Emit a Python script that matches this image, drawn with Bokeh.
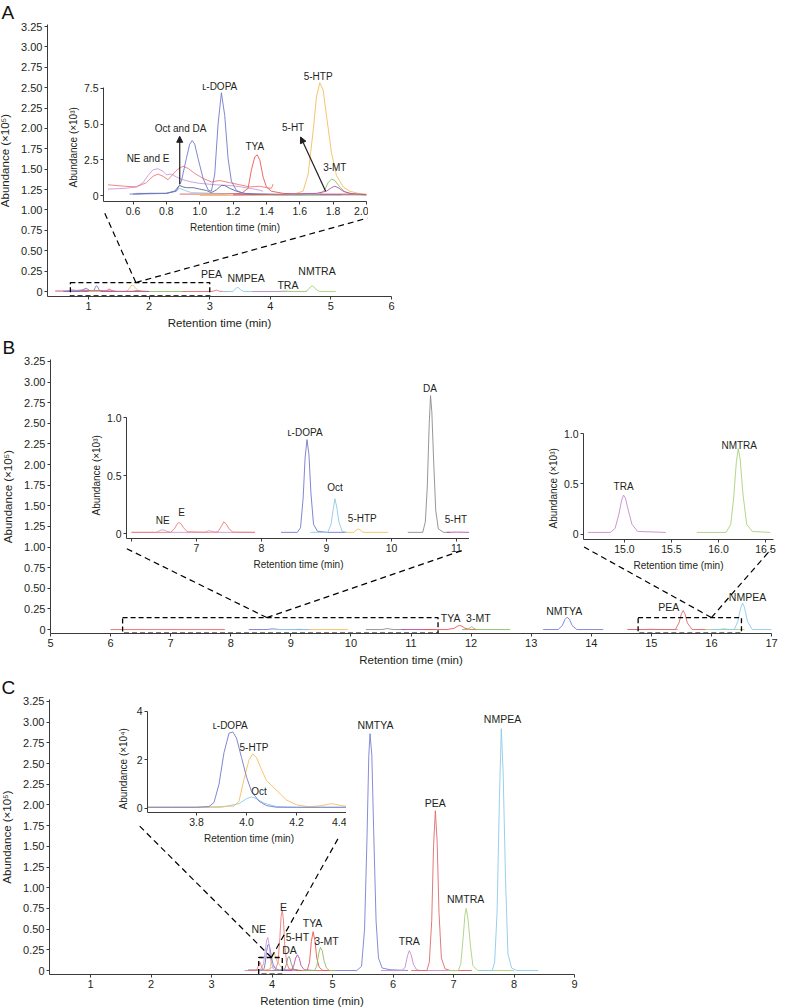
import math
from bokeh.plotting import figure
from bokeh.layouts import column
from bokeh.models import FixedTicker, PrintfTickFormatter, Arrow, NormalHead, Title
from bokeh.core.properties import value
from bokeh.embed import file_html
from bokeh.resources import INLINE

FONT = "Liberation Sans"
INK = "#231f20"
AXC = "#3a3a3a"

COLORS = {
    "NE": "#c99ad8", "E": "#f07a7a", "LDOPA": "#7479cc", "Oct": "#8fcbe8", "DA": "#8c8c8c",
    "DA_A": "#5a6d94", "5HTP": "#f6be5c", "5HT": "#b84fae", "TYA": "#ec5858", "3MT": "#8cc063",
    "NMTYA": "#7a7fd0", "TRA": "#c98bc9", "PEA": "#e06a6a", "NMTRA": "#a9d27c", "NMPEA": "#8ccbe8",
}

# ---------------- Panel A inset (x: min, y: x10^3) ----------------
A_NE_T = [0.45, 0.55, 0.62, 0.66, 0.69, 0.72, 0.75, 0.78, 0.80, 0.83, 0.86, 0.90, 0.95, 1.00, 1.05, 1.10, 1.15, 1.20, 1.25, 1.30, 1.35, 1.38]
A_NE_Y = [0.45, 0.50, 0.60, 0.90, 1.40, 1.80, 1.88, 1.70, 1.45, 1.50, 1.30, 1.10, 0.95, 0.85, 0.80, 0.75, 0.72, 0.68, 0.60, 0.50, 0.40, 0.30]
A_E_T = [0.45, 0.55, 0.62, 0.68, 0.72, 0.75, 0.78, 0.81, 0.84, 0.87, 0.90, 0.93, 0.97, 1.02, 1.07, 1.12, 1.18, 1.24, 1.30, 1.36, 1.40, 1.43, 1.44]
A_E_Y = [0.75, 0.65, 0.60, 0.90, 1.35, 1.50, 1.35, 1.10, 1.50, 1.85, 2.05, 1.90, 1.55, 1.20, 0.95, 1.05, 0.90, 0.75, 0.60, 0.65, 0.55, 0.50, 0.80]
A_LDOPA_T = [0.58, 0.70, 0.80, 0.86, 0.89, 0.92, 0.94, 0.955, 0.97, 0.99, 1.02, 1.05, 1.07, 1.09, 1.11, 1.13, 1.15, 1.17, 1.19, 1.22, 1.26, 1.32, 1.40, 1.50, 1.60, 1.70, 1.85]
A_LDOPA_Y = [0.10, 0.12, 0.15, 0.30, 1.00, 2.60, 3.60, 3.85, 3.60, 2.60, 1.20, 0.40, 0.30, 1.50, 5.00, 7.20, 5.60, 2.60, 1.00, 0.35, 0.15, 0.10, 0.10, 0.05, 0.05, 0.05, 0.05]
A_DA_T = [0.60, 0.70, 0.80, 0.85, 0.87, 0.88, 0.90, 0.92, 0.96, 1.00, 1.04, 1.07, 1.10, 1.13, 1.15, 1.18, 1.22, 1.27, 1.35, 1.45, 1.60, 1.80, 2.00]
A_DA_Y = [0.10, 0.15, 0.15, 0.30, 0.60, 0.70, 0.60, 0.55, 0.55, 0.45, 0.35, 0.20, 0.40, 0.70, 0.70, 0.50, 0.30, 0.15, 0.10, 0.05, 0.05, 0.05, 0.05]
A_OCT_T = [0.62, 0.80, 0.86, 0.88, 0.90, 0.95, 1.10, 1.30]
A_OCT_Y = [0.15, 0.15, 0.35, 0.50, 0.40, 0.20, 0.15, 0.10]
A_TYA_T = [0.88, 1.00, 1.15, 1.25, 1.29, 1.31, 1.33, 1.345, 1.36, 1.38, 1.40, 1.43, 1.50, 1.60, 1.75, 1.90, 2.00]
A_TYA_Y = [0.10, 0.10, 0.10, 0.15, 0.50, 1.80, 2.70, 2.85, 2.50, 1.30, 0.60, 0.30, 0.15, 0.10, 0.10, 0.10, 0.05]
A_5HTP_T = [1.00, 1.30, 1.55, 1.62, 1.65, 1.68, 1.70, 1.72, 1.74, 1.76, 1.79, 1.82, 1.86, 1.90, 1.95, 2.00]
A_5HTP_Y = [0.00, 0.00, 0.05, 0.30, 1.50, 4.50, 6.90, 7.90, 7.40, 5.60, 3.00, 1.40, 0.60, 0.30, 0.15, 0.10]
A_3MT_T = [1.30, 1.60, 1.72, 1.75, 1.77, 1.79, 1.81, 1.84, 1.87, 1.92, 2.00]
A_3MT_Y = [0.05, 0.05, 0.10, 0.40, 0.90, 1.15, 1.05, 0.60, 0.25, 0.10, 0.05]
A_5HT_T = [1.20, 1.50, 1.70, 1.76, 1.79, 1.81, 1.83, 1.86, 1.90, 2.00]
A_5HT_Y = [0.05, 0.10, 0.15, 0.30, 0.55, 0.65, 0.55, 0.30, 0.15, 0.05]

A_INSET_LABELS = ["NE and E", "Oct and DA", "ʟ-DOPA", "TYA", "5-HT", "3-MT", "5-HTP"]
A_INSET_LX = [0.69, 0.885, 1.12, 1.33, 1.56, 1.81, 1.71]
A_INSET_LY = [2.6, 4.7, 7.64, 3.43, 4.77, 1.96, 8.34]

# ---------------- Panel A main extras (x10^5) ----------------
A_PEA_T = [2.55, 3.00, 3.06, 3.09, 3.11, 3.13, 3.16, 3.22, 3.30]
A_PEA_Y = [0.0, 0.0, 0.004, 0.012, 0.018, 0.012, 0.004, 0.0, 0.0]
A_NMPEA_T = [3.20, 3.38, 3.41, 3.44, 3.46, 3.48, 3.51, 3.56, 4.25]
A_NMPEA_Y = [0.0, 0.0, 0.02, 0.045, 0.05, 0.045, 0.02, 0.0, 0.0]
A_TRA_T = [3.70, 4.10, 4.20, 4.25, 4.30, 4.40, 4.60]
A_TRA_Y = [0.0, 0.0, 0.003, 0.006, 0.003, 0.0, 0.0]
A_NMTRA_T = [4.20, 4.58, 4.62, 4.66, 4.69, 4.72, 4.76, 4.82, 5.08]
A_NMTRA_Y = [0.0, 0.0, 0.02, 0.055, 0.07, 0.055, 0.02, 0.0, 0.0]
A_3MTTAIL_T = [2.00, 2.60]
A_3MTTAIL_Y = [0.0005, 0.0005]
A_MAIN_LABELS = ["PEA", "NMPEA", "TRA", "NMTRA"]
A_MAIN_LX = [3.03, 3.60, 4.29, 4.77]
A_MAIN_LY = [0.21, 0.16, 0.085, 0.25]

# ---------------- Panel B left inset (x10^3) ----------------
B_NE_T = [6.0, 6.38, 6.42, 6.46, 6.5, 6.54, 6.6, 6.9, 7.12, 7.17, 7.2, 7.23, 7.28, 7.6, 7.9]
B_NE_Y = [0.01, 0.01, 0.02, 0.032, 0.03, 0.02, 0.01, 0.01, 0.01, 0.02, 0.025, 0.02, 0.01, 0.01, 0.01]
B_E_T = [6.0, 6.6, 6.66, 6.7, 6.73, 6.76, 6.8, 6.86, 7.2, 7.33, 7.38, 7.42, 7.46, 7.5, 7.56, 7.9]
B_E_Y = [0.01, 0.01, 0.04, 0.08, 0.095, 0.085, 0.05, 0.015, 0.01, 0.015, 0.06, 0.1, 0.08, 0.04, 0.012, 0.01]
B_LDOPA_T = [8.3, 8.55, 8.6, 8.64, 8.67, 8.7, 8.73, 8.76, 8.8, 8.86, 9.0, 9.3]
B_LDOPA_Y = [0.01, 0.01, 0.05, 0.3, 0.65, 0.81, 0.68, 0.35, 0.08, 0.02, 0.01, 0.01]
B_OCT_T = [8.75, 9.02, 9.07, 9.1, 9.13, 9.16, 9.19, 9.24, 9.3]
B_OCT_Y = [0.01, 0.01, 0.08, 0.2, 0.3, 0.22, 0.1, 0.02, 0.01]
B_5HTP_T = [9.3, 9.42, 9.46, 9.49, 9.52, 9.56, 9.95]
B_5HTP_Y = [0.01, 0.01, 0.03, 0.04, 0.03, 0.01, 0.01]
B_DA_T = [10.25, 10.48, 10.52, 10.55, 10.58, 10.6, 10.62, 10.65, 10.68, 10.72, 10.8, 10.9]
B_DA_Y = [0.01, 0.01, 0.1, 0.4, 0.95, 1.19, 1.05, 0.6, 0.2, 0.04, 0.01, 0.01]
B_5HT_T = [10.85, 11.0, 11.2, 11.4]
B_5HT_Y = [0.01, 0.012, 0.01, 0.01]
BL_LABELS = ["NE", "E", "ʟ-DOPA", "Oct", "5-HTP", "DA", "5-HT"]
BL_LX = [6.48, 6.77, 8.67, 9.13, 9.55, 10.59, 10.99]
BL_LY = [0.11, 0.18, 0.875, 0.40, 0.13, 1.25, 0.12]

# ---------------- Panel B right inset (x10^3) ----------------
B_TRA_T = [14.61, 14.85, 14.9, 14.94, 14.97, 14.99, 15.01, 15.04, 15.08, 15.14, 15.44]
B_TRA_Y = [0.02, 0.02, 0.06, 0.2, 0.34, 0.39, 0.36, 0.24, 0.1, 0.03, 0.02]
B_NMTRA_T = [15.77, 16.08, 16.13, 16.16, 16.19, 16.21, 16.23, 16.26, 16.3, 16.36, 16.55]
B_NMTRA_Y = [0.02, 0.02, 0.1, 0.35, 0.72, 0.85, 0.75, 0.4, 0.1, 0.03, 0.02]
BR_LABELS = ["TRA", "NMTRA"]
BR_LX = [14.99, 16.22]
BR_LY = [0.475, 0.88]

# ---------------- Panel B main extras (x10^5) ----------------
B_TYA_T = [11.2, 11.6, 11.72, 11.77, 11.81, 11.85, 11.9, 12.0, 12.1]
B_TYA_Y = [0.0, 0.0, 0.015, 0.04, 0.05, 0.04, 0.015, 0.0, 0.0]
B_3MT_T = [11.85, 11.95, 11.98, 12.01, 12.04, 12.08, 12.2, 12.65]
B_3MT_Y = [0.0, 0.0, 0.02, 0.035, 0.02, 0.0, 0.0, 0.0]
B_NMTYA_T = [13.2, 13.45, 13.52, 13.56, 13.6, 13.64, 13.68, 13.76, 14.2]
B_NMTYA_Y = [0.0, 0.0, 0.05, 0.12, 0.15, 0.12, 0.05, 0.0, 0.0]
B_PEA_T = [14.6, 15.4, 15.46, 15.5, 15.53, 15.56, 15.6, 15.68, 15.9]
B_PEA_Y = [0.0, 0.0, 0.08, 0.19, 0.23, 0.19, 0.08, 0.0, 0.0]
B_NMPEA_T = [16.0, 16.38, 16.44, 16.49, 16.52, 16.55, 16.6, 16.68, 17.0]
B_NMPEA_Y = [0.0, 0.0, 0.1, 0.27, 0.32, 0.27, 0.1, 0.0, 0.0]
B_MAIN_LABELS = ["TYA", "3-MT", "NMTYA", "PEA", "NMPEA"]
B_MAIN_LX = [11.66, 12.12, 13.55, 15.29, 16.6]
B_MAIN_LY = [0.145, 0.14, 0.23, 0.27, 0.40]

# ---------------- Panel C inset (x10^4) ----------------
C_LDOPA_T = [3.604, 3.7, 3.8, 3.85, 3.87, 3.89, 3.91, 3.93, 3.945, 3.96, 3.98, 4.0, 4.02, 4.05, 4.08, 4.12, 4.2, 4.3, 4.42]
C_LDOPA_Y = [0.05, 0.05, 0.05, 0.08, 0.25, 1.0, 2.3, 3.1, 3.15, 2.9, 2.1, 1.3, 0.7, 0.3, 0.12, 0.05, 0.05, 0.05, 0.05]
C_5HTP_T = [3.604, 3.8, 3.95, 3.97, 3.99, 4.01, 4.025, 4.04, 4.06, 4.08, 4.1, 4.13, 4.16, 4.2, 4.25, 4.3, 4.34, 4.38, 4.42]
C_5HTP_Y = [0.05, 0.05, 0.1, 0.3, 1.2, 2.0, 2.25, 2.1, 1.6, 1.15, 0.95, 0.65, 0.35, 0.15, 0.07, 0.12, 0.2, 0.12, 0.08]
C_OCT_T = [3.604, 3.9, 3.97, 4.0, 4.02, 4.04, 4.07, 4.12, 4.2, 4.42]
C_OCT_Y = [0.05, 0.05, 0.2, 0.4, 0.48, 0.4, 0.22, 0.08, 0.05, 0.05]
C_INSET_LABELS = ["ʟ-DOPA", "5-HTP", "Oct"]
C_INSET_LX = [3.935, 4.03, 4.05]
C_INSET_LY = [3.42, 2.52, 0.70]

# ---------------- Panel C main (x10^5) ----------------
C_NE_T = [3.55, 3.8, 3.86, 3.89, 3.91, 3.93, 3.95, 3.98, 4.02, 4.1, 4.5]
C_NE_Y = [0.0, 0.0, 0.08, 0.25, 0.36, 0.40, 0.32, 0.12, 0.02, 0.0, 0.0]
C_E_T = [3.6, 3.74, 3.78, 3.8, 3.82, 3.86, 4.05, 4.1, 4.13, 4.15, 4.17, 4.19, 4.21, 4.24, 4.28, 4.4, 5.0]
C_E_Y = [0.0, 0.0, 0.06, 0.1, 0.06, 0.0, 0.0, 0.1, 0.4, 0.65, 0.73, 0.6, 0.32, 0.1, 0.02, 0.0, 0.0]
C_DA_T = [4.0, 4.2, 4.24, 4.26, 4.28, 4.3, 4.32, 4.36, 4.5]
C_DA_Y = [0.0, 0.0, 0.08, 0.15, 0.17, 0.14, 0.08, 0.01, 0.0]
C_5HT_T = [4.2, 4.32, 4.36, 4.39, 4.42, 4.45, 4.48, 4.53, 4.7]
C_5HT_Y = [0.0, 0.0, 0.06, 0.15, 0.19, 0.15, 0.06, 0.01, 0.0]
C_TYA_T = [4.4, 4.58, 4.62, 4.65, 4.68, 4.71, 4.74, 4.78, 4.84, 5.0]
C_TYA_Y = [0.0, 0.0, 0.1, 0.35, 0.47, 0.36, 0.15, 0.04, 0.0, 0.0]
C_3MT_T = [4.5, 4.7, 4.74, 4.77, 4.8, 4.83, 4.86, 4.9, 4.95, 5.05]
C_3MT_Y = [0.0, 0.0, 0.05, 0.2, 0.28, 0.24, 0.12, 0.03, 0.0, 0.0]
C_NMTYA_T = [3.55, 5.40, 5.48, 5.53, 5.57, 5.60, 5.62, 5.65, 5.68, 5.72, 5.76, 5.82, 5.95, 6.25]
C_NMTYA_Y = [0.0, 0.0, 0.05, 0.5, 1.6, 2.6, 2.86, 2.6, 1.7, 0.6, 0.15, 0.03, 0.01, 0.0]
C_TRA_T = [5.8, 6.15, 6.2, 6.24, 6.27, 6.3, 6.34, 6.39, 6.45, 7.3]
C_TRA_Y = [0.0, 0.0, 0.04, 0.18, 0.24, 0.19, 0.07, 0.01, 0.0, 0.0]
C_PEA_T = [6.3, 6.56, 6.6, 6.64, 6.67, 6.7, 6.73, 6.76, 6.8, 6.86, 6.95, 7.3]
C_PEA_Y = [0.0, 0.0, 0.1, 0.6, 1.5, 1.93, 1.55, 0.7, 0.15, 0.02, 0.0, 0.0]
C_NMTRA_T = [6.9, 7.08, 7.12, 7.16, 7.19, 7.21, 7.24, 7.28, 7.32, 7.4, 8.0]
C_NMTRA_Y = [0.0, 0.0, 0.08, 0.4, 0.68, 0.75, 0.62, 0.3, 0.06, 0.0, 0.0]
C_NMPEA_T = [7.45, 7.64, 7.68, 7.72, 7.76, 7.79, 7.82, 7.86, 7.9, 7.96, 8.05, 8.4]
C_NMPEA_Y = [0.0, 0.0, 0.1, 0.7, 2.1, 2.92, 2.4, 1.1, 0.2, 0.03, 0.0, 0.0]
C_MAIN_LABELS = ["NE", "E", "5-HT", "DA", "TYA", "3-MT", "NMTYA", "TRA", "PEA", "NMTRA", "NMPEA"]
C_MAIN_LX = [3.78, 4.19, 4.42, 4.29, 4.67, 4.90, 5.71, 6.27, 6.70, 7.20, 7.81]
C_MAIN_LY = [0.50, 0.77, 0.41, 0.25, 0.57, 0.36, 2.97, 0.36, 2.02, 0.86, 3.04]

# zoom boxes [x0, x1, y0, y1] and connectors [apex_x, apex_y, left_x, left_y, right_x, right_y]
ZOOM_A = [0.70, 3.00, -0.055, 0.11]
CONN_A = [1.78, 0.11, 1.25, 0.99, 5.60, 0.90]
ZOOM_BL = [6.20, 11.45, -0.043, 0.145]
CONN_BL = [8.60, 0.145, 6.24, 0.99, 11.86, 0.96]
ZOOM_BR = [14.78, 16.50, -0.043, 0.145]
CONN_BR = [16.00, 0.145, 13.88, 1.00, 17.00, 0.98]
ZOOM_C = [3.78, 4.17, -0.044, 0.157]
CONN_C = [3.99, 0.157, 1.79, 1.76, 5.12, 1.63]

Y_MAIN_TICKS = [0, 0.25, 0.5, 0.75, 1.0, 1.25, 1.5, 1.75, 2.0, 2.25, 2.5, 2.75, 3.0, 3.25]


def make_fig(fw, fh, xr, yr, bl, bt, br, bb, margin):
    p = figure(frame_width=fw, frame_height=fh, x_range=xr, y_range=yr,
               output_backend="svg", toolbar_location=None,
               min_border_left=bl, min_border_top=bt, min_border_right=br, min_border_bottom=bb,
               margin=margin)
    p.background_fill_color = None
    p.border_fill_color = None
    p.outline_line_color = None
    p.xgrid.visible = False
    p.ygrid.visible = False
    return p


def style_axes(p, xticks, yticks, xfmt=None, yfmt=None, xover=None, yover=None,
               tick_size="11px", label_size="11.5px", xlabel=None, ylabel=None, ybounds=None):
    for ax in (p.xaxis[0], p.yaxis[0]):
        ax.axis_line_color = AXC
        ax.axis_line_width = 1
        ax.major_tick_line_color = AXC
        ax.major_tick_in = 0
        ax.major_tick_out = 3
        ax.minor_tick_line_color = None
        ax.major_label_text_font = FONT
        ax.major_label_text_font_size = tick_size
        ax.major_label_text_color = INK
        ax.major_label_standoff = 2
        ax.axis_label_text_font = FONT
        ax.axis_label_text_font_size = label_size
        ax.axis_label_text_font_style = "normal"
        ax.axis_label_text_color = INK
    p.xaxis[0].ticker = FixedTicker(ticks=xticks)
    p.yaxis[0].ticker = FixedTicker(ticks=yticks)
    if xfmt:
        p.xaxis[0].formatter = PrintfTickFormatter(format=xfmt)
    if yfmt:
        p.yaxis[0].formatter = PrintfTickFormatter(format=yfmt)
    if xover:
        p.xaxis[0].major_label_overrides = xover
    if yover:
        p.yaxis[0].major_label_overrides = yover
    if xlabel:
        p.xaxis[0].axis_label = xlabel
        p.xaxis[0].axis_label_standoff = 4
    if ylabel:
        p.yaxis[0].axis_label = ylabel
        p.yaxis[0].axis_label_standoff = 7
    if ybounds:
        p.yaxis[0].bounds = ybounds


def trace(p, t, y, color, scale=1.0):
    p.line(t, [v * scale for v in y], line_color=color, line_width=1.0, line_alpha=0.9)


def labels(p, xs, ys, texts, size="10px"):
    p.text(x=xs, y=ys, text=texts, text_font=value(FONT), text_font_size=size,
           text_color=INK, text_align="center", text_baseline="middle")


def zoom_box(p, box, conn):
    p.quad(left=[box[0]], right=[box[1]], bottom=[box[2]], top=[box[3]], fill_color=None,
           line_color="black", line_width=1.3, line_dash="5 3")
    p.segment(x0=[conn[0], conn[0]], y0=[conn[1], conn[1]], x1=[conn[2], conn[4]], y1=[conn[3], conn[5]],
              line_color="black", line_width=1.2, line_dash="6 4")


def inset_ylabel(p, text, offset, standoff=2):
    p.add_layout(Title(text=text, align="left", offset=offset, standoff=standoff,
                       text_font=FONT, text_font_size="10px", text_font_style="normal",
                       text_color=INK), "left")


def panel_letter(p, text, offset):
    p.title.text = text
    p.title.align = "left"
    p.title.offset = offset
    p.title.standoff = 0
    p.title.vertical_align = "top"
    p.title.text_font = FONT
    p.title.text_font_size = "19px"
    p.title.text_font_style = "normal"
    p.title.text_color = "#111111"


# ============ Panel A ============
A_TRACES = [(A_NE_T, A_NE_Y, COLORS["NE"]), (A_E_T, A_E_Y, COLORS["E"]),
            (A_OCT_T, A_OCT_Y, COLORS["Oct"]), (A_DA_T, A_DA_Y, COLORS["DA_A"]),
            (A_LDOPA_T, A_LDOPA_Y, COLORS["LDOPA"]), (A_TYA_T, A_TYA_Y, COLORS["TYA"]),
            (A_5HTP_T, A_5HTP_Y, COLORS["5HTP"]), (A_3MT_T, A_3MT_Y, COLORS["3MT"]),
            (A_5HT_T, A_5HT_Y, COLORS["5HT"])]

insetA = make_fig(263, 133, (0.423, 2.0), (-0.42, 8.9), 43, 8, 10, 40, (60, 0, 0, 60))
style_axes(insetA, [0.6, 0.8, 1.0, 1.2, 1.4, 1.6, 1.8, 2.0], [0, 2.5, 5.0, 7.5], xfmt="%.1f", yfmt="%.1f",
           yover={0: "0"}, tick_size="10.5px", label_size="10px", xlabel="Retention time (min)",
           ybounds=(-0.42, 7.6))
for t, y, c in A_TRACES:
    trace(insetA, t, y, c)
insetA.add_layout(Arrow(end=NormalHead(size=6, fill_color=INK, line_color=INK), x_start=0.88, y_start=0.8,
                        x_end=0.88, y_end=4.15, line_color=INK, line_width=1.2))
insetA.add_layout(Arrow(end=NormalHead(size=6, fill_color=INK, line_color=INK), x_start=1.755, y_start=0.3,
                        x_end=1.605, y_end=4.1, line_color=INK, line_width=1.2))
labels(insetA, A_INSET_LX, A_INSET_LY, A_INSET_LABELS)
inset_ylabel(insetA, "Abundance (×10³)", 14, 4)

figA = make_fig(344, 272, (0.322, 6.0), (-0.061, 3.275), 45, 24, 386, 42, (-241, 0, 0, 4))
style_axes(figA, [1, 2, 3, 4, 5, 6], Y_MAIN_TICKS, yfmt="%.2f", yover={0: "0"},
           xlabel="Retention time (min)", ylabel="Abundance (×10⁵)")
for t, y, c in A_TRACES:
    trace(figA, t, y, c, scale=0.01)
trace(figA, A_3MTTAIL_T, A_3MTTAIL_Y, COLORS["3MT"])
trace(figA, A_PEA_T, A_PEA_Y, COLORS["PEA"])
trace(figA, A_NMPEA_T, A_NMPEA_Y, COLORS["NMPEA"])
trace(figA, A_TRA_T, A_TRA_Y, COLORS["TRA"])
trace(figA, A_NMTRA_T, A_NMTRA_Y, COLORS["NMTRA"])
labels(figA, A_MAIN_LX, A_MAIN_LY, A_MAIN_LABELS, size="10.5px")
zoom_box(figA, ZOOM_A, CONN_A)
panel_letter(figA, "A", -46)

# ============ Panel B ============
BL_TRACES = [(B_NE_T, B_NE_Y, COLORS["NE"]), (B_E_T, B_E_Y, COLORS["E"]),
             (B_LDOPA_T, B_LDOPA_Y, COLORS["LDOPA"]), (B_OCT_T, B_OCT_Y, COLORS["Oct"]),
             (B_5HTP_T, B_5HTP_Y, COLORS["5HTP"]), (B_DA_T, B_DA_Y, COLORS["DA"]),
             (B_5HT_T, B_5HT_Y, COLORS["5HT"])]
BR_TRACES = [(B_TRA_T, B_TRA_Y, COLORS["TRA"]), (B_NMTRA_T, B_NMTRA_Y, COLORS["NMTRA"])]

insetBL = make_fig(344, 158, (5.923, 11.215), (-0.043, 1.32), 40, 5, 10, 36, (37, 0, 0, 83))
style_axes(insetBL, [6, 7, 8, 9, 10, 11], [0, 0.5, 1.0], yfmt="%.1f", yover={0: "0"}, xover={6: ""},
           tick_size="10.5px", label_size="10px", xlabel="Retention time (min)", ybounds=(-0.043, 1.0))
for t, y, c in BL_TRACES:
    trace(insetBL, t, y, c)
labels(insetBL, BL_LX, BL_LY, BL_LABELS)
inset_ylabel(insetBL, "Abundance (×10³)", 23, 4)

insetBR = make_fig(190, 109, (14.564, 16.585), (-0.05, 1.03), 43, 5, 11, 36, (-149, 0, 0, 540))
style_axes(insetBR, [15.0, 15.5, 16.0, 16.5], [0, 0.5, 1.0], xfmt="%.1f", yfmt="%.1f", yover={0: "0"},
           tick_size="10.5px", label_size="10px", xlabel="Retention time (min)", ybounds=(-0.05, 1.0))
for t, y, c in BR_TRACES:
    trace(insetBR, t, y, c)
labels(insetBR, BR_LX, BR_LY, BR_LABELS)
inset_ylabel(insetBR, "Abundance (×10³)", 11, 4)

figB = make_fig(721, 274, (5, 17), (-0.048, 3.273), 45, 24, 7, 36, (-240, 0, 0, 7))
style_axes(figB, list(range(5, 18)), Y_MAIN_TICKS, yfmt="%.2f", yover={0: "0"},
           xlabel="Retention time (min)", ylabel="Abundance (×10⁵)")
for t, y, c in BL_TRACES + BR_TRACES:
    trace(figB, t, y, c, scale=0.01)
trace(figB, B_TYA_T, B_TYA_Y, COLORS["TYA"])
trace(figB, B_3MT_T, B_3MT_Y, COLORS["3MT"])
trace(figB, B_NMTYA_T, B_NMTYA_Y, COLORS["NMTYA"])
trace(figB, B_PEA_T, B_PEA_Y, COLORS["PEA"])
trace(figB, B_NMPEA_T, B_NMPEA_Y, COLORS["NMPEA"])
labels(figB, B_MAIN_LX, B_MAIN_LY, B_MAIN_LABELS, size="10.5px")
zoom_box(figB, ZOOM_BL, CONN_BL)
zoom_box(figB, ZOOM_BR, CONN_BR)
panel_letter(figB, "B", -48)

# ============ Panel C ============
C_INSET_TRACES = [(C_OCT_T, C_OCT_Y, COLORS["Oct"]), (C_5HTP_T, C_5HTP_Y, COLORS["5HTP"]),
                  (C_LDOPA_T, C_LDOPA_Y, COLORS["LDOPA"])]

insetC = make_fig(203, 106, (3.604, 4.416), (-0.165, 4.2), 35, 5, 10, 30, (32, 0, 0, 104))
style_axes(insetC, [3.8, 4.0, 4.2, 4.4], [0, 2, 4], xfmt="%.1f", tick_size="10.5px", label_size="10px",
           xlabel="Retention time (min)", ybounds=(-0.165, 4.0))
for t, y, c in C_INSET_TRACES:
    trace(insetC, t, y, c)
labels(insetC, C_INSET_LX, C_INSET_LY, C_INSET_LABELS)
inset_ylabel(insetC, "Abundance (×10⁴)", 3, 10)

figC = make_fig(525, 275, (0.322, 9.0), (-0.048, 3.273), 45, 26, 203, 34, (-173, 0, 0, 6))
style_axes(figC, list(range(1, 10)), Y_MAIN_TICKS, yfmt="%.2f", yover={0: "0"},
           xlabel="Retention time (min)", ylabel="Abundance (×10⁵)")
trace(figC, C_NMTYA_T, C_NMTYA_Y, COLORS["NMTYA"])
for t, y, c in C_INSET_TRACES:
    trace(figC, t, y, c, scale=0.1)
trace(figC, C_NE_T, C_NE_Y, COLORS["NE"])
trace(figC, C_E_T, C_E_Y, COLORS["E"])
trace(figC, C_DA_T, C_DA_Y, COLORS["DA"])
trace(figC, C_5HT_T, C_5HT_Y, COLORS["5HT"])
trace(figC, C_TYA_T, C_TYA_Y, COLORS["TYA"])
trace(figC, C_3MT_T, C_3MT_Y, COLORS["3MT"])
trace(figC, C_TRA_T, C_TRA_Y, COLORS["TRA"])
trace(figC, C_PEA_T, C_PEA_Y, COLORS["PEA"])
trace(figC, C_NMTRA_T, C_NMTRA_Y, COLORS["NMTRA"])
trace(figC, C_NMPEA_T, C_NMPEA_Y, COLORS["NMPEA"])
labels(figC, C_MAIN_LX, C_MAIN_LY, C_MAIN_LABELS, size="10.5px")
zoom_box(figC, ZOOM_C, CONN_C)
panel_letter(figC, "C", -48)

root = column(insetA, figA, insetBL, insetBR, figB, insetC, figC, margin=(0, -8, -8, -8))

with open("out.html", "w") as f:
    f.write(file_html(root, INLINE, title="Chromatograms"))
